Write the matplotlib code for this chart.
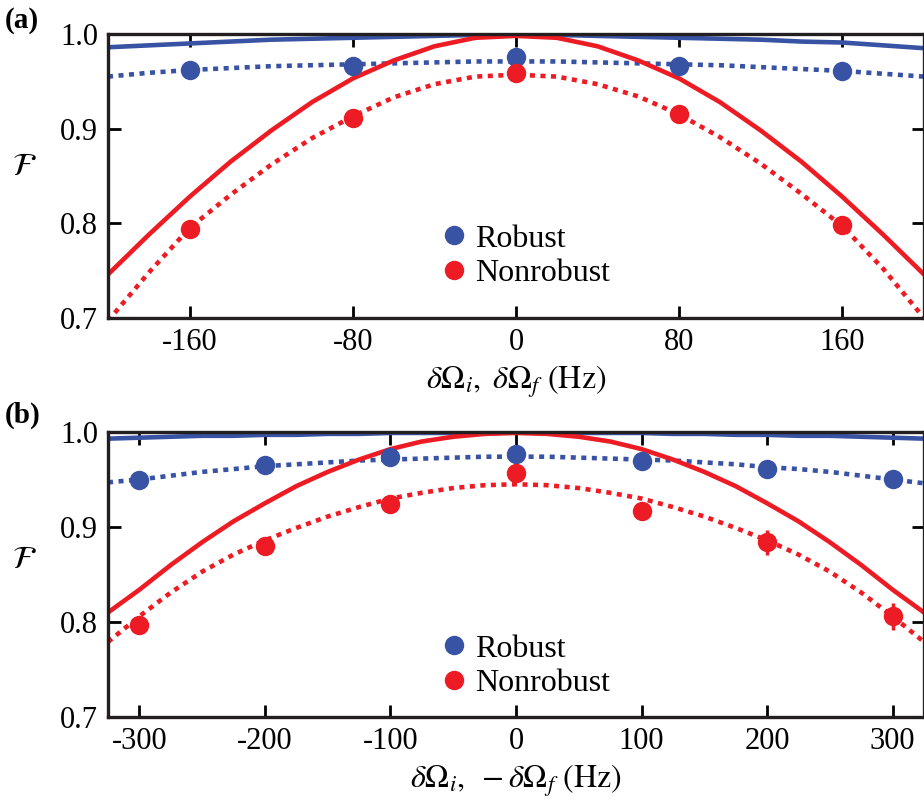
import matplotlib
matplotlib.use("Agg")
import matplotlib.pyplot as plt

plt.rcParams['font.family'] = ['Liberation Serif', 'DejaVu Serif']
plt.rcParams['mathtext.fontset'] = 'stix'

BLUE = '#3953A4'
RED = '#ED1C24'
DOT = (0, (1.1, 1.2))

# ---- panel (a): detuning of both pulses, same sign ----
xa_curve = [-200, -180, -160, -140, -120, -100, -80, -60, -40, -20, 0,
            20, 40, 60, 80, 100, 120, 140, 160, 180, 200]
robust_ideal_a = [0.986, 0.988, 0.990, 0.992, 0.994, 0.995, 0.996, 0.997, 0.998, 0.999, 0.999,
                  0.999, 0.998, 0.997, 0.996, 0.995, 0.994, 0.992, 0.991, 0.988, 0.985]
robust_noisy_a = [0.955, 0.959, 0.962, 0.964, 0.966, 0.967, 0.968, 0.969, 0.970, 0.971, 0.971,
                  0.971, 0.970, 0.969, 0.968, 0.967, 0.965, 0.963, 0.961, 0.958, 0.955]
nonrob_ideal_a = [0.746, 0.788, 0.828, 0.865, 0.898, 0.928, 0.953, 0.972, 0.987, 0.996, 0.998,
                  0.996, 0.987, 0.972, 0.953, 0.928, 0.898, 0.865, 0.828, 0.788, 0.746]
nonrob_noisy_a = [0.697, 0.748, 0.795, 0.830, 0.862, 0.890, 0.913, 0.933, 0.947, 0.955, 0.957,
                  0.955, 0.947, 0.934, 0.915, 0.891, 0.863, 0.831, 0.797, 0.752, 0.700]

xa_meas = [-160, -80, 0, 80, 160]
robust_meas_a = [0.962, 0.966, 0.976, 0.966, 0.961]
nonrob_meas_a = [0.794, 0.911, 0.959, 0.915, 0.798]
xa_ticks = [-160, -80, 0, 80, 160]

# ---- panel (b): opposite sign on the final pulse ----
xb_curve = [-325, -300, -275, -250, -225, -200, -175, -150, -125, -100, -75, -50, -25, 0,
            25, 50, 75, 100, 125, 150, 175, 200, 225, 250, 275, 300, 325]
robust_ideal_b = [0.993, 0.994, 0.995, 0.996, 0.996, 0.997, 0.997, 0.998, 0.998, 0.999, 0.999, 0.999, 1.000, 1.000,
                  1.000, 0.999, 0.999, 0.999, 0.998, 0.998, 0.997, 0.997, 0.996, 0.996, 0.995, 0.994, 0.993]
robust_noisy_b = [0.947, 0.950, 0.954, 0.958, 0.961, 0.964, 0.966, 0.968, 0.970, 0.971, 0.972, 0.973, 0.974, 0.974,
                  0.974, 0.973, 0.972, 0.971, 0.970, 0.968, 0.966, 0.963, 0.961, 0.958, 0.954, 0.950, 0.946]
nonrob_ideal_b = [0.810, 0.834, 0.860, 0.884, 0.906, 0.925, 0.943, 0.958, 0.971, 0.982, 0.990, 0.995, 0.998, 0.999,
                  0.998, 0.995, 0.990, 0.982, 0.971, 0.958, 0.943, 0.925, 0.906, 0.884, 0.860, 0.834, 0.810]
nonrob_noisy_b = [0.779, 0.806, 0.831, 0.853, 0.871, 0.886, 0.899, 0.911, 0.921, 0.930, 0.936, 0.941, 0.944, 0.945,
                  0.944, 0.941, 0.936, 0.930, 0.921, 0.911, 0.899, 0.886, 0.871, 0.853, 0.831, 0.806, 0.779]

xb_meas = [-300, -200, -100, 0, 100, 200, 300]
robust_meas_b = [0.949, 0.965, 0.974, 0.977, 0.970, 0.961, 0.951]
robust_err_b = [0.007, 0.004, 0.003, 0.003, 0.003, 0.003, 0.006]
nonrob_meas_b = [0.797, 0.880, 0.924, 0.957, 0.917, 0.884, 0.806]
nonrob_err_b = [0.007, 0.006, 0.005, 0.006, 0.009, 0.013, 0.014]
xb_ticks = [-300, -200, -100, 0, 100, 200, 300]

yticks = [0.7, 0.8, 0.9, 1.0]


def style_axes(ax, xlim, xticks):
    ax.set_xlim(xlim)
    ax.set_ylim(0.7, 1.0)
    ax.set_xticks(xticks)
    ax.set_xticklabels([str(t) for t in xticks])
    ax.set_yticks(yticks)
    ax.set_yticklabels(['%.1f' % t for t in yticks])
    ax.tick_params(direction='in', length=9, width=2.0, labelsize=22,
                   top=True, right=True, pad=7)
    for s in ax.spines.values():
        s.set_linewidth(2.4)
        s.set_color('#231F20')
        s.set_zorder(6)
    ax.set_ylabel(r'$\mathcal{F}$', rotation=0, fontsize=23)


def draw_legend(ax, y0):
    ax.plot([], [], 'o', color=BLUE, ms=14, mec='none', label='Robust')
    ax.plot([], [], 'o', color=RED, ms=14, mec='none', label='Nonrobust')
    ax.legend(loc='upper left', bbox_to_anchor=(0.385, y0), frameon=False,
              fontsize=23, handletextpad=0.05, labelspacing=0.15,
              handlelength=1.2, borderaxespad=0)


fig = plt.figure(figsize=(9.24, 8.01), dpi=100)

ax1 = fig.add_axes([108 / 924, 1 - 318 / 801, 816 / 924, 284 / 801])
ax1.plot(xa_curve, robust_ideal_a, color=BLUE, lw=3.3, zorder=3)
ax1.plot(xa_curve, robust_noisy_a, color=BLUE, lw=3.3, ls=DOT, zorder=3)
ax1.plot(xa_curve, nonrob_ideal_a, color=RED, lw=3.3, zorder=3)
ax1.plot(xa_curve, nonrob_noisy_a, color=RED, lw=3.3, ls=DOT, zorder=3)
ax1.plot(xa_meas, robust_meas_a, 'o', color=BLUE, ms=14, mec='none', zorder=4)
ax1.plot(xa_meas, nonrob_meas_a, 'o', color=RED, ms=14, mec='none', zorder=4)
style_axes(ax1, (-200, 200), xa_ticks)
ax1.set_xlabel(r'$\delta\Omega_i,\ \delta\Omega_f\ \mathrm{(Hz)}$', fontsize=23, labelpad=5)
ax1.yaxis.set_label_coords(-0.102, 0.48)
draw_legend(ax1, 0.375)

ax2 = fig.add_axes([108 / 924, 1 - 717 / 801, 816 / 924, 285 / 801])
ax2.plot(xb_curve, robust_ideal_b, color=BLUE, lw=3.3, zorder=3)
ax2.plot(xb_curve, robust_noisy_b, color=BLUE, lw=3.3, ls=DOT, zorder=3)
ax2.plot(xb_curve, nonrob_ideal_b, color=RED, lw=3.3, zorder=3)
ax2.plot(xb_curve, nonrob_noisy_b, color=RED, lw=3.3, ls=DOT, zorder=3)
ax2.errorbar(xb_meas, robust_meas_b, yerr=robust_err_b, fmt='o', color=BLUE, ms=14,
             mec='none', elinewidth=2.5, capsize=0, zorder=4)
ax2.errorbar(xb_meas, nonrob_meas_b, yerr=nonrob_err_b, fmt='o', color=RED, ms=14,
             mec='none', elinewidth=2.5, capsize=0, zorder=4)
style_axes(ax2, (-325, 325), xb_ticks)
ax2.set_xlabel(r'$\delta\Omega_i,\ -\delta\Omega_f\ \mathrm{(Hz)}$', fontsize=23, labelpad=5)
ax2.yaxis.set_label_coords(-0.102, 0.50)
draw_legend(ax2, 0.335)

fig.text(0.005, 1 - 20 / 801, '(a)', fontsize=21, fontweight='bold', va='center')
fig.text(0.005, 1 - 415 / 801, '(b)', fontsize=21, fontweight='bold', va='center')

fig.savefig('out.png', dpi=100)
